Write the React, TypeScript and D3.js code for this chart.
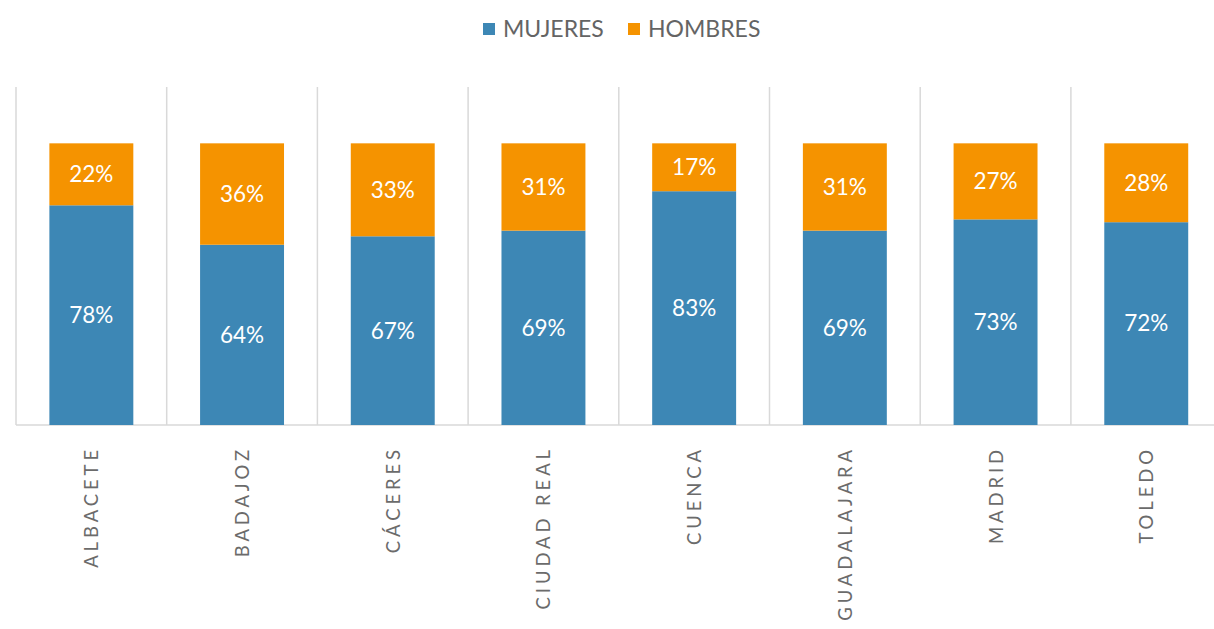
import React from "react";
import * as d3 from "d3";

const categories = ["ALBACETE", "BADAJOZ", "CÁCERES", "CIUDAD REAL", "CUENCA", "GUADALAJARA", "MADRID", "TOLEDO"];
const mujeres = [78, 64, 67, 69, 83, 69, 73, 72];
const hombres = [22, 36, 33, 31, 17, 31, 27, 28];
const seriesNames = ["MUJERES", "HOMBRES"];
const colors = ["#3d87b5", "#f59300"];

const W = 1214, H = 629;
const FONT = "Lato, 'Open Sans', sans-serif";

export default function App() {
  const left = 16, step = 150.7;
  const x = d3.scaleBand<string>().domain(categories).range([left, left + step * categories.length]).paddingInner(0.443).paddingOuter(0.2215);
  const y = d3.scaleLinear().domain([0, 120]).range([425, 87]);
  const rows = categories.map((c, i) => ({ cat: c, MUJERES: mujeres[i], HOMBRES: hombres[i] }));
  const stack = d3.stack<any>().keys(seriesNames)(rows);
  const bounds = d3.range(categories.length).map((i) => left + step * i);

  return (
    <div style={{ position: "fixed", left: 0, top: 0 }}>
      <svg width={W} height={H} style={{ display: "block", background: "#fff" }}>
        {bounds.map((bx, i) => (
          <line key={i} x1={bx} x2={bx} y1={y(120)} y2={y(0)} stroke="#d9d9d9" strokeWidth={1.5} />
        ))}
        <line x1={left} x2={W} y1={y(0)} y2={y(0)} stroke="#d9d9d9" strokeWidth={1.5} />
        {stack.map((s, si) =>
          s.map((d, i) => (
            <g key={si + "-" + i}>
              <rect x={x(categories[i])} width={x.bandwidth()} y={y(d[1])} height={y(d[0]) - y(d[1])} fill={colors[si]} />
              <text x={(x(categories[i]) as number) + x.bandwidth() / 2} y={(y(d[0]) + y(d[1])) / 2} dy="0.35em" textAnchor="middle" fill="#fff" fontSize={22.5} fontFamily={FONT}>
                {(si === 0 ? mujeres[i] : hombres[i]) + "%"}
              </text>
            </g>
          ))
        )}
        {categories.map((c, i) => {
          const cx = (x(c) as number) + x.bandwidth() / 2;
          return (
            <text key={c} transform={`translate(${cx + 7},446) rotate(-90)`} textAnchor="end" fill="#6b6b6b" fontSize={18.5} letterSpacing={3.9} fontFamily={FONT}>
              {c}
            </text>
          );
        })}
        {seriesNames.map((n, i) => {
          const lx = [483, 628][i];
          return (
            <g key={n}>
              <rect x={lx} y={23} width={12} height={12} fill={colors[i]} />
              <text x={lx + 20} y={29} dy="0.35em" fill="#646464" fontSize={23} fontFamily={FONT}>{n}</text>
            </g>
          );
        })}
      </svg>
    </div>
  );
}
